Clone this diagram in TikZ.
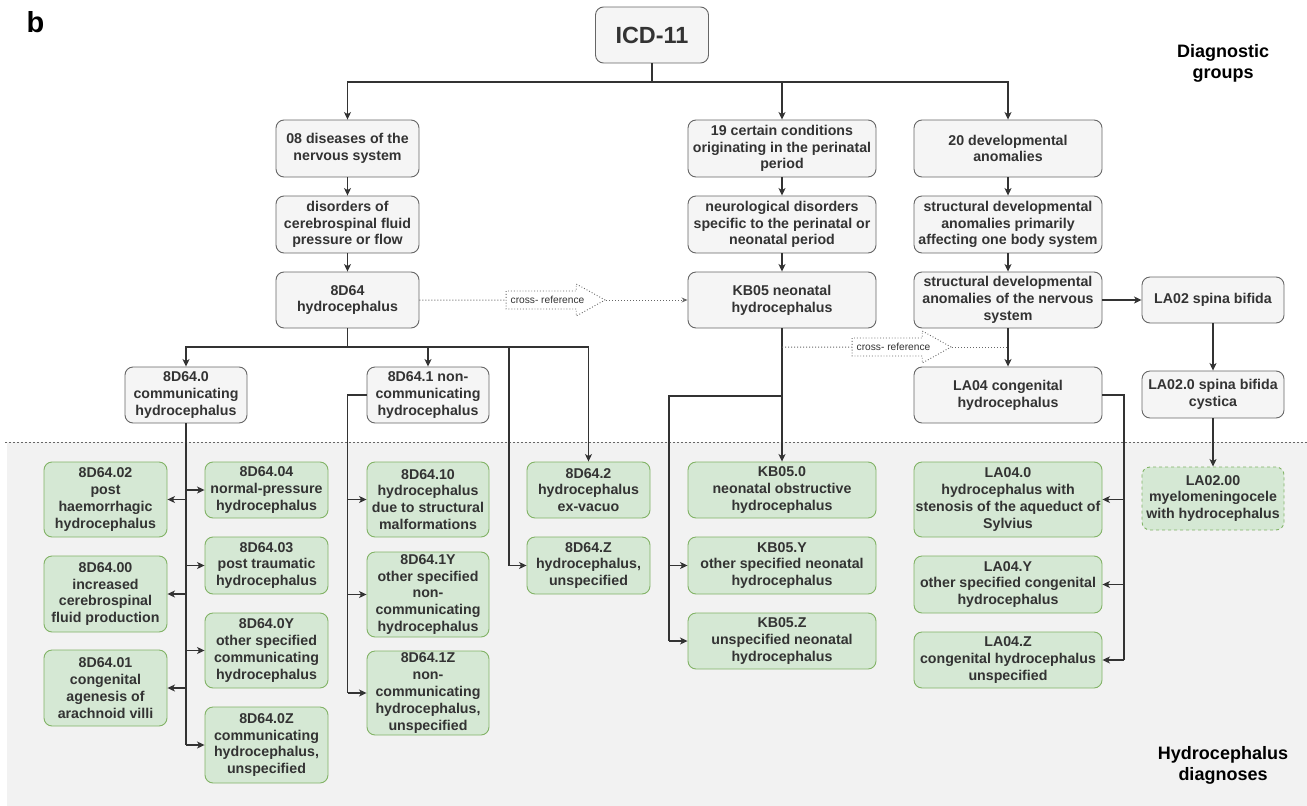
\documentclass[tikz,border=0pt]{standalone}
\usepackage{fontspec}
\setmainfont{Liberation Sans}
\usetikzlibrary{arrows.meta,shapes.arrows}
\definecolor{grfill}{HTML}{F5F5F5}
\definecolor{grline}{HTML}{666666}
\definecolor{gnfill}{HTML}{D5E8D4}
\definecolor{gnline}{HTML}{82B366}
\definecolor{bgfill}{HTML}{F2F2F2}
\definecolor{txt}{HTML}{333333}
\tikzset{
	box/.style={draw=grline,fill=grfill,rounded corners=8pt,line width=0.9pt,align=center,inner sep=0pt,text=txt,font=\bfseries\fontsize{14.2}{16.8}\selectfont},
	diag/.style={box,draw=gnline,fill=gnfill},
	sz/.style 2 args={minimum width=#1,minimum height=#2},
	head/.style={align=center,font=\bfseries\fontsize{18}{21}\selectfont},
	lnk/.style={line width=1.2pt,draw=black!80},
	arr/.style={lnk,-{Stealth[length=7.5pt,width=7pt,inset=2pt]}},
	arrb/.style={arr,line width=2pt},
	xln/.style={draw=grline,dotted,line width=1pt},
	xref/.style={single arrow,draw=grline,dotted,line width=0.9pt,fill=white,text=txt,font=\fontsize{10.2}{12}\selectfont,minimum height=99pt,single arrow head extend=7pt,single arrow tip angle=58,inner xsep=3pt,inner ysep=4.8pt}
}
\begin{document}
\begin{tikzpicture}[x=1pt,y=-1pt]
		\useasboundingbox (0,0) rectangle (1307,806);
		%%%% Hintergrund Diagnosen
		\fill[bgfill] (7,442) rectangle (1307,806);
		\draw[dash pattern=on 2pt off 2pt,line width=1pt,draw=black!60] (5,442) -- (1307,442);
		%%%% Kopf
		\node[font=\bfseries\fontsize{29}{31}\selectfont] (lbl) at (35.5,22.5) {b};
		\node[box,sz={113pt}{56pt},font=\bfseries\fontsize{23.4}{26}\selectfont] (icd) at (652,35) {ICD-11};
		\node[head] (hgrp) at (1223,63) {Diagnostic\\groups};
		\node[head] (hdiag) at (1223,765) {Hydrocephalus\\diagnoses};
		%%%% Gruppen
		\node[box,sz={143pt}{57pt}] (g08) at (347.5,148.5) {08 diseases of the\\nervous system};
		\node[box,sz={188pt}{57pt}] (g19) at (782,148.5) {19 certain conditions\\originating in the perinatal\\period};
		\node[box,sz={188pt}{57pt}] (g20) at (1008,148.5) {20 developmental\\anomalies};
		\node[box,sz={143pt}{57pt}] (csf) at (347.5,224.5) {disorders of\\cerebrospinal fluid\\pressure or flow};
		\node[box,sz={188pt}{57pt}] (neo) at (782,224.5) {neurological disorders\\specific to the perinatal or\\neonatal period};
		\node[box,sz={188pt}{57pt}] (sda) at (1008,224.5) {structural developmental\\anomalies primarily\\affecting one body system};
		\node[box,sz={143pt}{56pt}] (h8d) at (347.5,300) {8D64\\hydrocephalus};
		\node[box,sz={188pt}{56pt}] (kb) at (782,300) {KB05 neonatal\\hydrocephalus};
		\node[box,sz={188pt}{56pt}] (sdn) at (1008,300) {structural developmental\\anomalies of the nervous\\system};
		\node[box,sz={142pt}{46pt}] (la02) at (1213,300) {LA02 spina bifida};
		\node[box,sz={122pt}{56pt}] (c0) at (186,395) {8D64.0\\communicating\\hydrocephalus};
		\node[box,sz={122pt}{56pt}] (c1) at (428,395) {8D64.1 non-\\communicating\\hydrocephalus};
		\node[box,sz={188pt}{56pt}] (la04) at (1008,395) {LA04 congenital\\hydrocephalus};
		\node[box,sz={142pt}{47pt}] (la020) at (1213,394.5) {LA02.0 spina bifida\\cystica};
		%%%% Diagnosen
		\node[diag,sz={123pt}{75pt}] (d0402) at (105.5,499.5) {8D64.02\\post\\haemorrhagic\\hydrocephalus};
		\node[diag,sz={123pt}{76pt}] (d0400) at (105.5,594) {8D64.00\\increased\\cerebrospinal\\fluid production};
		\node[diag,sz={123pt}{76pt}] (d0401) at (105.5,688) {8D64.01\\congenital\\agenesis of\\arachnoid villi};
		\node[diag,sz={123pt}{56pt}] (d0404) at (266.5,490) {8D64.04\\normal-pressure\\hydrocephalus};
		\node[diag,sz={123pt}{57pt}] (d0403) at (266.5,565.5) {8D64.03\\post traumatic\\hydrocephalus};
		\node[diag,sz={123pt}{75pt}] (d040Y) at (266.5,650.5) {8D64.0Y\\other specified\\communicating\\hydrocephalus};
		\node[diag,sz={123pt}{76pt}] (d040Z) at (266.5,745) {8D64.0Z\\communicating\\hydrocephalus,\\unspecified};
		\node[diag,sz={122pt}{75pt}] (d0410) at (428,499.5) {8D64.10\\hydrocephalus\\due to structural\\malformations};
		\node[diag,sz={122pt}{85pt}] (d041Y) at (428,594.5) {8D64.1Y\\other specified\\non-\\communicating\\hydrocephalus};
		\node[diag,sz={122pt}{84pt}] (d041Z) at (428,693) {8D64.1Z\\non-\\communicating\\hydrocephalus,\\unspecified};
		\node[diag,sz={123pt}{56pt}] (d042) at (588.5,490) {8D64.2\\hydrocephalus\\ex-vacuo};
		\node[diag,sz={123pt}{57pt}] (d04Z) at (588.5,565.5) {8D64.Z\\hydrocephalus,\\unspecified};
		\node[diag,sz={188pt}{56pt}] (k0) at (782,490) {KB05.0\\neonatal obstructive\\hydrocephalus};
		\node[diag,sz={188pt}{57pt}] (kY) at (782,565.5) {KB05.Y\\other specified neonatal\\hydrocephalus};
		\node[diag,sz={188pt}{56pt}] (kZ) at (782,641) {KB05.Z\\unspecified neonatal\\hydrocephalus};
		\node[diag,sz={188pt}{75pt}] (l0) at (1008,499.5) {LA04.0\\hydrocephalus with\\stenosis of the aqueduct of\\Sylvius};
		\node[diag,sz={188pt}{57pt}] (lY) at (1008,584.5) {LA04.Y\\other specified congenital\\hydrocephalus};
		\node[diag,sz={188pt}{56pt}] (lZ) at (1008,660) {LA04.Z\\congenital hydrocephalus\\unspecified};
		\node[diag,dashed,sz={142pt}{63pt}] (l200) at (1213,498.5) {LA02.00\\myelomeningocele\\with hydrocephalus};
		%%%% Pfeile oben
		\coordinate (top) at (652,82);
		\draw[lnk] (icd) -- (top);
		\foreach \n in {g08,g19,g20} {
			\draw[arr] (top) -| (\n);
		}
		\foreach \a/\b in {g08/csf,csf/h8d,g19/neo,neo/kb,g20/sda,sda/sdn,la02/la020,la020/l200} {
			\draw[arr] (\a) -- (\b);
		}
		\draw[arrb] (sdn) -- (la04);
		\draw[arrb] (sdn) -- (la02);
		%%%% 8D64
		\coordinate (hb) at (347.5,347);
		\coordinate (tz) at (509,565.5);
		\draw[lnk] (h8d) -- (hb);
		\foreach \n in {c0,c1,d042} {
			\draw[arr] (hb) -| (\n);
		}
		\draw[arr] (hb) -| (tz) -- (d04Z);
		% 8D64.0
		\coordinate (t0) at (186,745);
		\draw[lnk] (c0) -- (t0);
		\foreach \n in {d0402,d0400,d0401,d0404,d0403,d040Y,d040Z} {
			\draw[arr] (c0 |- \n) -- (\n);
		}
		% 8D64.1
		\coordinate (t1) at (347.5,693);
		\draw[lnk] (c1) -| (t1);
		\foreach \n in {d0410,d041Y,d041Z} {
			\draw[arr] (t1 |- \n) -- (\n);
		}
		%%%% KB05
		\coordinate (kbr) at (782,396);
		\coordinate (tk) at (669,641);
		\draw[arr] (kb) -- (k0);
		\draw[lnk] (kbr) -| (tk);
		\foreach \n in {kY,kZ} {
			\draw[arr] (tk |- \n) -- (\n);
		}
		%%%% LA04
		\coordinate (tl) at (1124,660);
		\draw[lnk] (la04) -| (tl);
		\foreach \n in {l0,lY,lZ} {
			\draw[arr] (tl |- \n) -- (\n);
		}
		%%%% Querverweise
		\node[xref] (x1) at (547.5,300) {cross- reference};
		\draw[xln] (h8d) -- (x1);
		\draw[xln,-{Stealth[length=6pt,width=5pt]}] (x1.tip) -- (kb);
		\node[xref] (x2) at (893.5,347) {cross- reference};
		\draw[xln] (kb |- x2) -- (x2);
		\draw[xln] (x2.tip) -- (sdn |- x2);
\end{tikzpicture}
\end{document}
